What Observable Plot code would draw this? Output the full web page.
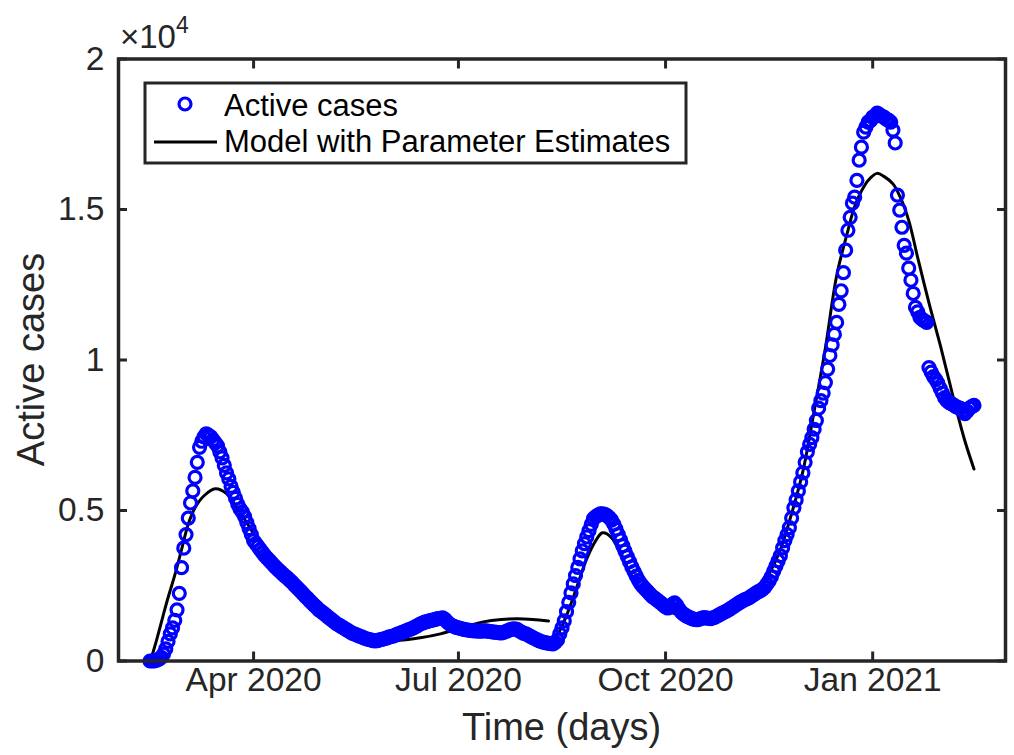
<!DOCTYPE html>
<html>
<head>
<meta charset="utf-8">
<script src="https://cdn.jsdelivr.net/npm/d3@7"></script>
<script src="https://cdn.jsdelivr.net/npm/@observablehq/plot@0.6"></script>
<style>
  html, body { margin: 0; padding: 0; background: #fff; }
  #chart { width: 1014px; height: 755px; }
</style>
</head>
<body>
<div id="chart"></div>
<script>
// Daily active cases, starting on firstDay
const firstDay = "2020-02-15";
const activeCases = [
  0, 0, 0, 30, 60, 120, 230, 400, 650, 900,
  1100, 1350, 1700, 2250, 3100, 3750, 4200, 4750, 5250, 5650,
  6100, 6600, 7100, 7300, 7450, 7550, 7500, 7450, 7350, 7250,
  7150, 6950, 6750, 6500, 6250, 6050, 5800, 5600, 5400, 5200,
  5050, 4950, 4800, 4600, 4400, 4200, 4000, 3900, 3800, 3700,
  3600, 3500, 3420, 3340, 3260, 3180, 3100, 3030, 2960, 2890,
  2820, 2760, 2690, 2620, 2540, 2460, 2390, 2310, 2230, 2150,
  2080, 2000, 1920, 1850, 1780, 1700, 1650, 1590, 1530, 1470,
  1410, 1350, 1290, 1230, 1190, 1140, 1100, 1050, 1010, 960,
  920, 890, 860, 830, 800, 770, 740, 720, 700, 680,
  670, 680, 700, 720, 740, 760, 790, 810, 830, 860,
  890, 920, 950, 980, 1010, 1040, 1070, 1100, 1140, 1180,
  1230, 1260, 1290, 1310, 1330, 1350, 1370, 1390, 1410, 1420,
  1430, 1380, 1300, 1230, 1180, 1150, 1120, 1100, 1080, 1060,
  1040, 1030, 1020, 1010, 1000, 1000, 990, 990, 1000, 1000,
  990, 980, 970, 960, 950, 940, 930, 950, 980, 1010,
  1040, 1060, 1070, 1050, 1000, 960, 920, 900, 860, 820,
  780, 740, 700, 670, 640, 620, 600, 590, 580, 570,
  620, 700, 900, 1100, 1330, 1640, 1950, 2260, 2560, 2840,
  3110, 3390, 3660, 3900, 4120, 4330, 4540, 4730, 4800, 4850,
  4890, 4890, 4870, 4830, 4760, 4680, 4550, 4380, 4200, 4020,
  3830, 3650, 3470, 3300, 3130, 2970, 2820, 2680, 2560, 2470,
  2390, 2310, 2230, 2150, 2100, 2040, 1980, 1920, 1860, 1800,
  1760, 1800, 1880, 1930, 1850, 1720, 1620, 1560, 1510, 1470,
  1430, 1400, 1380, 1370, 1390, 1420, 1440, 1430, 1420, 1410,
  1430, 1460, 1500, 1540, 1580, 1620, 1660, 1700, 1750, 1800,
  1850, 1900, 1950, 1990, 2030, 2060, 2100, 2150, 2200, 2250,
  2300, 2330, 2380, 2450, 2550, 2660, 2800, 2980, 3150, 3330,
  3500, 3760, 4000, 4200, 4430, 4750, 5090, 5350, 5650, 5950,
  6250, 6600, 6950, 7200, 7420, 7700, 7990, 8400, 8650, 8900,
  9250, 9700, 10150, 10500, 10850, 11250, 11850, 12300, 12900, 13650,
  14310, 14740, 15210, 15410, 15970, 16640, 17070, 17570, 17740, 17900,
  17950, 18070, 18100, 18200, 18150, 18100, 18070, 18000, 17970, 17900,
  17640, 17210, 15480, 14980, 14410, 13810, 13550, 13050, 12650, 12210,
  11750, 11600, 11420, 11350, 11300, 11250, 9750, 9600, 9450, 9350,
  9220, 9050, 8900, 8750, 8650, 8580, 8550, 8500, 8450, 8420,
  8390, 8300, 8220, 8300, 8400, 8450, 8490
];

// Fitted model, first wave (day offsets from firstDay and values)
const modelDays1 = [1, 3, 6, 8, 11, 14, 17, 20, 24, 29, 34, 39, 45, 50, 55, 60, 65, 70, 75, 80,
  85, 90, 95, 100, 105, 111, 120, 129, 138, 148, 156, 163, 170, 177];
const modelValues1 = [200, 720, 1560, 2100, 2850, 3700, 4550, 5090, 5490, 5720, 5560, 5060, 4350, 3800, 3300, 2880, 2480, 2100, 1760, 1460,
  1220, 1020, 870, 770, 710, 690, 770, 900, 1100, 1300, 1380, 1400, 1380, 1330];

// Fitted model, later waves
const modelDays2 = [178, 182, 186, 190, 194, 198, 201, 205, 210, 215, 220, 225, 230, 240, 250, 255, 260, 265, 270, 275,
  280, 285, 290, 295, 300, 305, 310, 313, 317, 320, 323, 326, 330, 333, 337, 341, 346, 351, 355, 358, 362, 366];
const modelValues2 = [550, 1000, 1700, 2550, 3400, 4000, 4260, 4100, 3400, 2700, 2200, 1850, 1650, 1450, 1420, 1480, 1650, 1950, 2330, 2900,
  3700, 4900, 6300, 8300, 10400, 12800, 14300, 15100, 15750, 16050, 16200, 16100, 15850, 15450, 14640, 13400, 11900, 10500, 9300, 8400, 7300, 6380];

const xTicks = ["2020-04-01", "2020-07-01", "2020-10-01", "2021-01-01"];
const xTickLabels = ["Apr 2020", "Jul 2020", "Oct 2020", "Jan 2021"];
const yTicks = [0, 5000, 10000, 15000, 20000];
const yTickLabels = ["0", "0.5", "1", "1.5", "2"];
const seriesNames = ["Active cases", "Model with Parameter Estimates"];
const xLabel = "Time (days)";
const yLabel = "Active cases";

const ink = "#262626";
const blue = "#0000ff";
const font = "'Liberation Sans', Arial, Helvetica, sans-serif";

const start = new Date(firstDay);
const dayOf = i => d3.utcDay.offset(start, i);
const observed = activeCases.map((v, i) => ({date: dayOf(i), value: v}));
const model = [
  ...modelDays1.map((d, i) => ({date: dayOf(d), value: modelValues1[i], part: 1})),
  ...modelDays2.map((d, i) => ({date: dayOf(d), value: modelValues2[i], part: 2}))
];
const tickDates = xTicks.map(s => new Date(s));
const xFmt = d => xTickLabels[tickDates.findIndex(t => +t === +d)];
const yFmt = d => yTickLabels[yTicks.indexOf(d)];

const W = 1014, H = 755;
const m = {left: 118, right: 9, top: 58.5, bottom: 94.5};

// inward tick marks on all four sides of the box
const tickStyle = {stroke: ink, strokeWidth: 3, tickSize: -9, tickFormat: () => "", label: null};

const chart = Plot.plot({
  width: W,
  height: H,
  marginLeft: m.left,
  marginRight: m.right,
  marginTop: m.top,
  marginBottom: m.bottom,
  style: {fontFamily: font, background: "#fff", color: ink, overflow: "visible"},
  x: {type: "utc", domain: [new Date("2020-02-01"), new Date("2021-03-01")]},
  y: {domain: [0, 20000]},
  marks: [
    Plot.line(model, {x: "date", y: "value", z: "part", stroke: "#000", strokeWidth: 3, curve: "catmull-rom"}),
    Plot.dot(observed, {x: "date", y: "value", r: 6, stroke: blue, strokeWidth: 3.2, fill: "none"}),
    Plot.axisX(tickDates, {anchor: "bottom", ...tickStyle}),
    Plot.axisX(tickDates, {anchor: "top", ...tickStyle}),
    Plot.axisY(yTicks, {anchor: "left", ...tickStyle}),
    Plot.axisY(yTicks, {anchor: "right", ...tickStyle}),
    Plot.axisX(tickDates, {anchor: "bottom", tickSize: 0, tickPadding: 6, tickFormat: xFmt, fontSize: 33.5, fill: ink, label: null}),
    Plot.axisY(yTicks, {anchor: "left", tickSize: 0, tickPadding: 14, tickFormat: yFmt, fontSize: 33.5, fill: ink, label: null}),
    Plot.frame({stroke: ink, strokeWidth: 3.5})
  ]
});

document.getElementById("chart").appendChild(chart);

// Exponent, axis titles and legend drawn into the same SVG
const svg = d3.select(chart);
const cx = (m.left + W - m.right) / 2;
const cy = (m.top + H - m.bottom) / 2;

const expo = svg.append("text")
  .attr("x", 120).attr("y", 48)
  .attr("text-anchor", "start")
  .attr("fill", ink).attr("font-family", font).attr("font-size", 33);
expo.append("tspan").text("\u00d710");
expo.append("tspan").attr("font-size", 23).attr("dy", -15).text("4");

svg.append("text")
  .attr("x", cx).attr("y", 740)
  .attr("text-anchor", "middle")
  .attr("fill", ink).attr("font-family", font).attr("font-size", 38)
  .text(xLabel);

svg.append("text")
  .attr("transform", `translate(44,${cy}) rotate(-90)`)
  .attr("text-anchor", "middle")
  .attr("fill", ink).attr("font-family", font).attr("font-size", 38)
  .text(yLabel);

const lg = svg.append("g");
lg.append("rect")
  .attr("x", 145).attr("y", 83).attr("width", 541).attr("height", 80)
  .attr("fill", "#fff").attr("stroke", ink).attr("stroke-width", 3);
lg.append("circle")
  .attr("cx", 185).attr("cy", 104).attr("r", 6)
  .attr("fill", "none").attr("stroke", blue).attr("stroke-width", 3.2);
lg.append("line")
  .attr("x1", 154).attr("x2", 217).attr("y1", 142).attr("y2", 142)
  .attr("stroke", "#000").attr("stroke-width", 3);
lg.selectAll("text.entry").data(seriesNames).join("text")
  .attr("class", "entry")
  .attr("x", 224).attr("y", (d, i) => 116 + i * 36)
  .attr("text-anchor", "start")
  .attr("fill", "#000").attr("font-family", font).attr("font-size", 31)
  .text(d => d);
</script>
</body>
</html>
